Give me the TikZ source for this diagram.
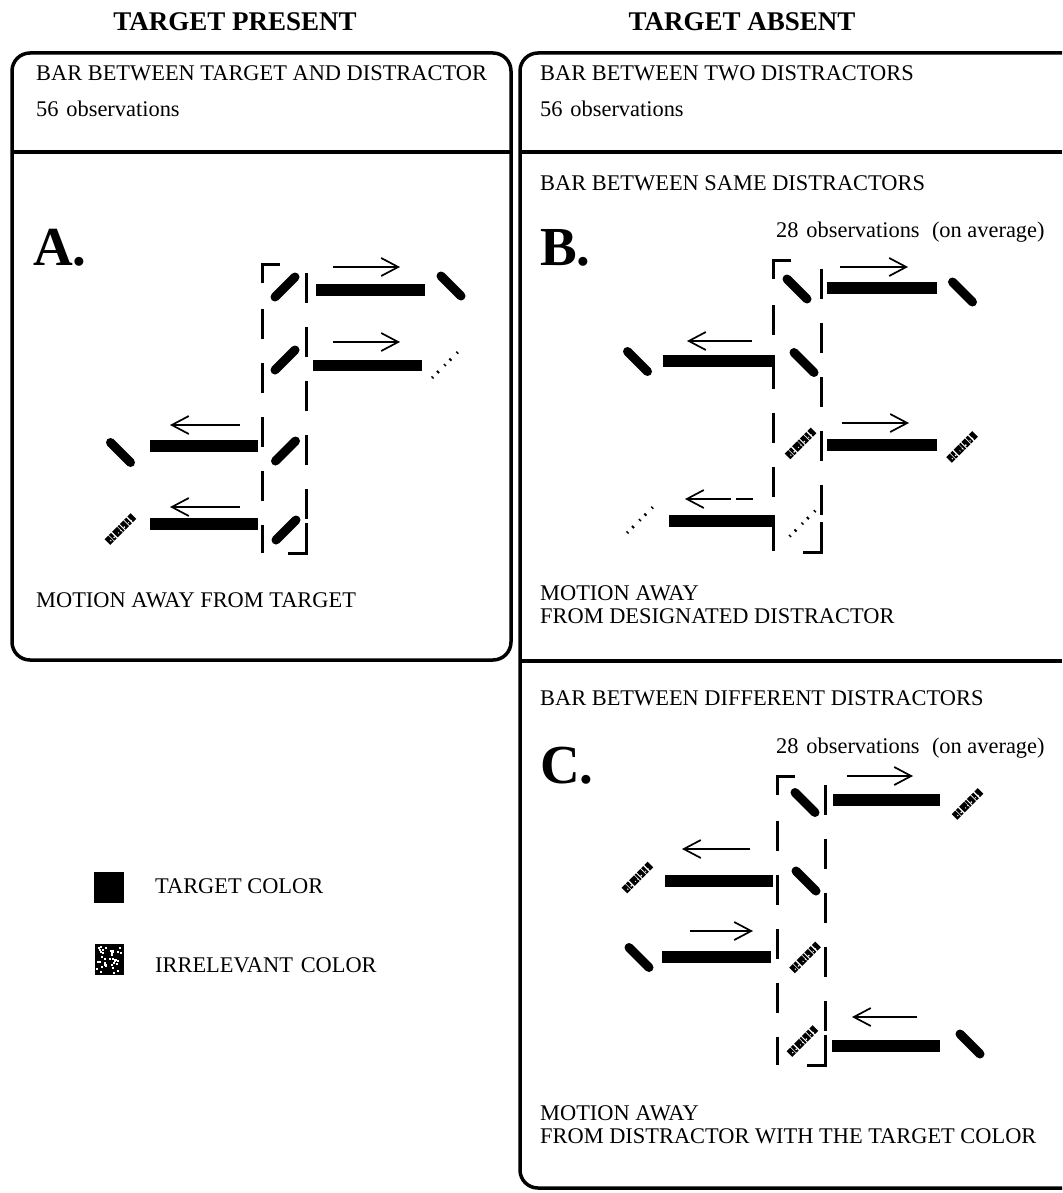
\documentclass[tikz,border=0pt]{standalone}
\usepackage{fontspec}
\setmainfont{Liberation Serif}
\usetikzlibrary{arrows.meta}

% target-colour stick tilted "/" and "\"
\newcommand\tgtF[2]{\draw[tilt] ({#1-10},{#2+10}) -- ({#1+10},{#2-10});}
\newcommand\tgtB[2]{\draw[tilt] ({#1-10},{#2-10}) -- ({#1+10},{#2+10});}
% irrelevant-colour stick: speckled black with white flecks
\newcommand\irrF[2]{%
  \draw[irr] ({#1-13},{#2+13}) -- ({#1+13},{#2-13});
  \draw[fleck] ({#1-10},{#2+12}) -- ({#1+12},{#2-10});}
% faint irrelevant-colour stick
\newcommand\irrFaint[2]{\draw[irrfaint] ({#1-13},{#2+13}) -- ({#1+13},{#2-13});}
% dashed receptive-field frame with corner brackets at top-left and bottom-right
\newcommand\dashframe[4]{%
  \draw[dline] ({#1+18},#2) -- (#1,#2) -- (#1,{#2+19});
  \draw[dline,dash pattern=on 30pt off 24pt] (#1,{#2+45}) -- (#1,#4);
  \draw[dline,dash pattern=on 30pt off 24pt] (#3,{#2+9}) -- (#3,{#4-34});
  \draw[dline] (#3,{#4-30}) -- (#3,#4) -- ({#3-18},#4);}

\begin{document}
\begin{tikzpicture}[x=1pt,y=-1pt,
  frame/.style={line width=3.5pt,rounded corners=18pt},
  divider/.style={line width=3.5pt},
  tbar/.style={line width=11.5pt},
  tilt/.style={line width=9pt,line cap=round},
  irr/.style={line width=8pt,dash pattern=on 5pt off 1pt on 3pt off 1.5pt on 7pt off 0.8pt on 2pt off 1.2pt},
  fleck/.style={white,line width=1.2pt,dash pattern=on 1pt off 3.5pt on 1.5pt off 5pt on 0.8pt off 2.5pt},
  irrfaint/.style={line width=3pt,dash pattern=on 1.5pt off 6pt on 2pt off 8pt},
  dline/.style={line width=3pt},
  arr/.style={line width=1.7pt,-{Straight Barb[length=17pt,width=18pt,line width=1.7pt]}},
  txt/.style={anchor=base west,inner sep=0pt,font=\fontsize{22.4}{26}\selectfont},
  ttl/.style={anchor=base,inner sep=0pt,font=\fontsize{27}{30}\selectfont\bfseries},
  plabel/.style={anchor=base west,inner sep=0pt,font=\fontsize{55}{60}\selectfont\bfseries}]
\useasboundingbox (0,0) rectangle (1062,1193);
\clip (0,0) rectangle (1062,1193);

% column headings
\node[ttl] (hpres) at (235,31) {TARGET PRESENT};
\node[ttl] (habs) at (742,31) {TARGET ABSENT};

% frames
\draw[frame] (12,53) rectangle (511,660);
\draw[divider] (12,152) -- (511,152);
\draw[frame] (520,53) rectangle (1095,1188);
\draw[divider] (520,152) -- (1062,152);
\draw[divider] (520,661) -- (1062,661);

% ---------- target present ----------
\node[txt] (t1) at (36,81) {BAR BETWEEN TARGET AND DISTRACTOR};
\node[txt] (t2) at (36,117) {56\hspace{0.35em}observations};
\node[plabel] (la) at (33,265) {A.};
\node[txt] (t3) at (36,607) {MOTION AWAY FROM TARGET};

\dashframe{262}{264}{306}{553}
\tgtF{285}{287}
\tgtF{285}{360}
\tgtF{285.5}{451}
\tgtF{286}{530}
\tgtB{451}{286}
\irrFaint{445}{365}
\tgtB{120.5}{452.5}
\irrF{120.5}{529}
\draw[tbar] (316,290) -- (425,290);
\draw[tbar] (313,365.5) -- (422,365.5);
\draw[tbar] (150,446) -- (258,446);
\draw[tbar] (150,524) -- (258,524);
\draw[arr] (333,267) -- (400,267);
\draw[arr] (333,342) -- (400,342);
\draw[arr] (240,425) -- (170,425);
\draw[arr] (240,507) -- (170,507);

% ---------- target absent ----------
\node[txt] (t4) at (540,81) {BAR BETWEEN TWO DISTRACTORS};
\node[txt] (t5) at (540,117) {56\hspace{0.35em}observations};

% B: same distractors
\node[txt] (t6) at (540,190) {BAR BETWEEN SAME DISTRACTORS};
\node[plabel] (lb) at (540,265) {B.};
\node[txt] (t7) at (776,237) {28\hspace{0.35em}observations\hspace{0.3em} (on average)};
\node[txt] (t8) at (540,600) {MOTION AWAY};
\node[txt] (t9) at (540,623) {FROM DESIGNATED DISTRACTOR};

\dashframe{773}{260}{821}{552}
\tgtB{797}{289}
\tgtB{962.5}{292}
\tgtB{637.5}{361.5}
\tgtB{804}{362.5}
\irrF{800.5}{443.5}
\irrF{962}{447}
\irrFaint{640}{520}
\irrFaint{802.5}{523.5}
\draw[tbar] (827,288) -- (937,288);
\draw[tbar] (663,361) -- (775,361);
\draw[tbar] (827,445) -- (937,445);
\draw[tbar] (669,521) -- (775,521);
\draw[arr] (840,267) -- (908,267);
\draw[arr] (752,341) -- (687,341);
\draw[arr] (842,423) -- (909,423);
\draw[arr] (731,499) -- (685,499);
\draw[line width=1.7pt] (736,499) -- (753,499);

% C: different distractors
\node[txt] (t10) at (540,705) {BAR BETWEEN DIFFERENT DISTRACTORS};
\node[plabel] (lc) at (540,783) {C.};
\node[txt] (t11) at (776,753) {28\hspace{0.35em}observations\hspace{0.3em} (on average)};
\node[txt] (t12) at (540,1120) {MOTION AWAY};
\node[txt] (t13) at (540,1143) {FROM DISTRACTOR WITH THE TARGET COLOR};

\dashframe{777}{776}{825}{1065}
\tgtB{805}{802.5}
\irrF{967.5}{804}
\irrF{637.5}{877.5}
\tgtB{806}{881}
\tgtB{639}{957.5}
\irrF{805}{957.5}
\irrF{802.5}{1041}
\tgtB{970}{1044}
\draw[tbar] (833,800) -- (940,800);
\draw[tbar] (665,881) -- (773,881);
\draw[tbar] (662,957) -- (771,957);
\draw[tbar] (832,1046) -- (940,1046);
\draw[arr] (847,776) -- (913,776);
\draw[arr] (750,849) -- (682,849);
\draw[arr] (690,931) -- (753,931);
\draw[arr] (917,1017) -- (852,1017);

% ---------- legend ----------
\fill (94,872) rectangle (124,903);
\node[txt] (lg1) at (155,893) {TARGET COLOR};
\fill (95,944) rectangle (124,975);
\pgfmathsetseed{11}
\foreach \k in {1,...,40}{
  \pgfmathsetmacro\rx{96+26*rnd}
  \pgfmathsetmacro\ry{945+28*rnd}
  \fill[white] (\rx,\ry) rectangle ++(2,2);
}
\node[txt] (lg2) at (155,972) {IRRELEVANT\hspace{0.35em}COLOR};
\end{tikzpicture}
\end{document}
